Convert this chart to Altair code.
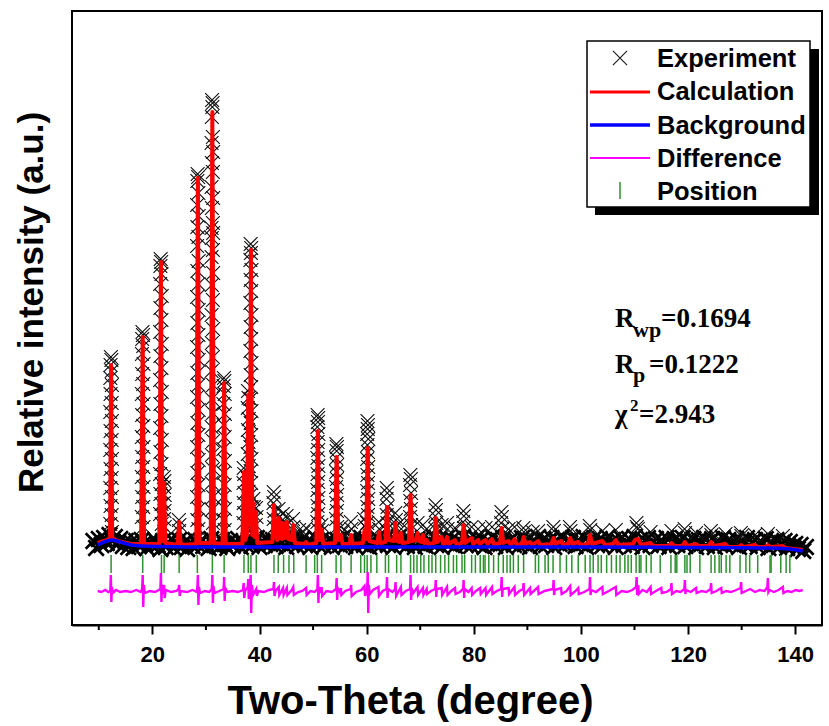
import altair as alt
import pandas as pd

# ---------------- data (2-theta in degrees, intensity in arbitrary units) ----------------

# observed scan: low-intensity band, sampled every 0.5 deg from 9.0 deg
band_start, band_step = 9.0, 0.5
band_int = [
    24, 17, 26, 20, 27, 22, 30, 24, 28, 21, 26, 19, 24, 18, 23, 17, 24, 19, 25, 22,
    17, 23, 19, 25, 20, 16, 24, 18, 22, 26, 17, 21, 25, 18, 23, 16, 22, 19, 25, 20,
    24, 19, 22, 17, 26, 20, 23, 18, 25, 21, 17, 24, 19, 22, 26, 18, 23, 20, 25, 19,
    22, 27, 18, 24, 20, 26, 21, 25, 19, 27, 22, 26, 18, 24, 21, 27, 19, 23, 26, 20,
    24, 18, 22, 27, 20, 25, 19, 23, 26, 18, 22, 25, 20, 27, 19, 24, 21, 26, 18, 23,
    27, 20, 24, 18, 25, 21, 27, 19, 23, 26, 20, 25, 18, 24, 28, 21, 26, 19, 25, 22,
    18, 26, 21, 27, 19, 24, 22, 28, 20, 25, 18, 23, 27, 21, 26, 19, 24, 22, 28, 20,
    25, 19, 23, 27, 20, 26, 18, 24, 22, 28, 19, 25, 21, 27, 18, 23, 26, 20, 24, 19,
    27, 21, 25, 18, 24, 22, 28, 19, 26, 20, 23, 27, 18, 25, 21, 28, 20, 24, 22, 27,
    19, 25, 21, 28, 18, 24, 22, 27, 20, 26, 19, 23, 28, 21, 25, 18, 24, 27, 20, 23,
    26, 19, 28, 22, 25, 18, 24, 27, 20, 23, 26, 19, 25, 21, 27, 18, 23, 26, 20, 24,
    27, 19, 24, 22, 26, 18, 25, 21, 27, 19, 23, 26, 18, 24, 21, 27, 19, 25, 22, 20,
    26, 18, 24, 21, 27, 19, 23, 25, 18, 24, 21, 26, 17, 23, 20, 25, 18, 22, 24, 17,
    23, 19, 21, 16, 20, 14, 18,
]
band_tt = [round(band_start + i * band_step, 2) for i in range(len(band_int))]

# observed points on the reflections (2-theta, intensity)
obs_peaks = [
    # 12.3
    (12.25, 208), (12.35, 205), (12.20, 200), (12.40, 194), (12.15, 187), (12.45, 180),
    (12.20, 171), (12.40, 162), (12.15, 153), (12.45, 144), (12.20, 134), (12.40, 125),
    (12.15, 115), (12.45, 106), (12.20, 96), (12.40, 87), (12.15, 77), (12.45, 68),
    (12.20, 59), (12.40, 50), (12.15, 41), (12.45, 33),
    # 18.2
    (18.15, 233), (18.25, 230), (18.10, 226), (18.30, 219), (18.05, 211), (18.35, 201),
    (18.10, 191), (18.30, 181), (18.05, 171), (18.35, 161), (18.10, 150), (18.30, 139),
    (18.05, 128), (18.35, 118), (18.10, 108), (18.30, 98), (18.05, 88), (18.35, 78),
    (18.10, 68), (18.30, 58), (18.05, 48), (18.35, 38),
    # 21.6 and 22.2
    (21.55, 306), (21.65, 303), (21.50, 299), (21.70, 291), (21.45, 281), (21.75, 269),
    (21.50, 257), (21.70, 245), (21.45, 233), (21.75, 221), (21.50, 209), (21.70, 197),
    (21.45, 185), (21.75, 173), (21.50, 161), (21.70, 149), (21.45, 137), (21.75, 125),
    (21.50, 113), (21.70, 101), (21.45, 91), (21.75, 81), (21.50, 71), (21.70, 61),
    (21.45, 51), (21.75, 41),
    (22.15, 88), (22.25, 84), (22.20, 78), (22.30, 70), (22.15, 62), (22.25, 54),
    (22.20, 46), (22.30, 38),
    # 25.0
    (24.95, 45), (25.05, 40), (25.00, 34),
    # 28.5
    (28.45, 391), (28.55, 388), (28.40, 384), (28.60, 372), (28.35, 360), (28.65, 349),
    (28.40, 338), (28.60, 328), (28.35, 319), (28.65, 304), (28.40, 294), (28.60, 281),
    (28.35, 268), (28.65, 255), (28.40, 242), (28.60, 230), (28.35, 218), (28.65, 205),
    (28.40, 192), (28.60, 180), (28.35, 168), (28.65, 155), (28.40, 142), (28.60, 130),
    (28.35, 118), (28.65, 105), (28.40, 92), (28.60, 80), (28.35, 68), (28.65, 56),
    (28.40, 45), (28.60, 36),
    # 31.2
    (31.15, 465), (31.25, 462), (31.20, 458), (31.10, 448), (31.30, 428), (31.05, 422),
    (31.35, 413), (31.10, 402), (31.30, 393), (31.05, 378), (31.35, 367), (31.10, 357),
    (31.30, 342), (31.05, 337), (31.35, 332), (31.10, 327), (31.30, 315), (31.05, 308),
    (31.35, 292), (31.10, 280), (31.30, 265), (31.05, 250), (31.35, 236), (31.10, 222),
    (31.30, 208), (31.05, 194), (31.35, 180), (31.10, 166), (31.30, 152), (31.05, 138),
    (31.35, 124), (31.10, 110), (31.30, 96), (31.05, 82), (31.35, 68), (31.10, 55),
    (31.30, 42),
    # 33.4
    (33.35, 187), (33.45, 184), (33.30, 179), (33.50, 171), (33.25, 161), (33.55, 151),
    (33.30, 140), (33.50, 128), (33.25, 116), (33.55, 104), (33.30, 92), (33.50, 80),
    (33.25, 68), (33.55, 56), (33.30, 45), (33.50, 35),
    # 37.1, 37.9, 38.4, 39.0-39.5
    (37.05, 97), (37.15, 91), (37.00, 82), (37.20, 72), (37.05, 62), (37.15, 52), (37.00, 42),
    (37.85, 174), (37.95, 167), (37.80, 157), (38.00, 146), (37.85, 135), (37.95, 123),
    (37.80, 111), (38.00, 99), (37.85, 86), (37.95, 73), (37.80, 61), (38.00, 49),
    (38.35, 321), (38.45, 317), (38.40, 312), (38.30, 305), (38.50, 295), (38.35, 285),
    (38.45, 274), (38.30, 262), (38.50, 250), (38.35, 238), (38.45, 226), (38.30, 214),
    (38.50, 202), (38.35, 190), (38.45, 178), (38.30, 166), (38.50, 154), (38.35, 142),
    (38.45, 130), (38.30, 118), (38.50, 106), (38.35, 94), (38.45, 82), (38.30, 70),
    (38.50, 58), (38.35, 46), (38.45, 36),
    (38.85, 66), (38.95, 58), (39.35, 57), (39.45, 48), (39.30, 40),
    # 42.7 - 48.7
    (42.65, 73), (42.75, 68), (42.60, 62), (42.80, 54), (42.65, 46), (42.75, 38),
    (43.55, 56), (43.65, 48), (44.35, 51), (44.45, 43), (45.05, 49), (45.15, 41),
    (46.25, 46), (46.35, 38), (47.4, 35), (48.2, 33), (48.7, 37),
    # 50.9, 51.6
    (50.85, 150), (50.95, 147), (50.90, 143), (50.80, 138), (51.00, 131), (50.85, 123),
    (50.95, 115), (50.80, 107), (51.00, 99), (50.85, 91), (50.95, 83), (50.80, 75),
    (51.00, 67), (50.85, 59), (50.95, 51), (50.80, 43), (51.00, 35),
    (51.55, 40), (51.65, 34),
    # 54.4 - 59.6
    (54.35, 121), (54.45, 118), (54.40, 114), (54.30, 107), (54.50, 100), (54.35, 93),
    (54.45, 86), (54.30, 78), (54.50, 70), (54.35, 62), (54.45, 54), (54.30, 46), (54.50, 38),
    (55.2, 38), (55.5, 33), (57.05, 43), (57.15, 36), (56.5, 32), (59.55, 46), (59.65, 39),
    # 60.2
    (60.15, 144), (60.25, 140), (60.20, 136), (60.10, 131), (60.30, 126), (60.15, 120),
    (60.25, 113), (60.10, 106), (60.30, 98), (60.15, 90), (60.25, 82), (60.10, 74),
    (60.30, 66), (60.15, 58), (60.25, 50), (60.10, 42), (60.30, 35),
    # 62.3 - 76.5
    (62.25, 43), (62.35, 36),
    (63.75, 77), (63.85, 72), (63.70, 66), (63.90, 58), (63.75, 50), (63.85, 42), (63.70, 35),
    (65.35, 52), (65.45, 45), (65.40, 38), (66.35, 43), (66.45, 36),
    (68.15, 90), (68.25, 86), (68.10, 80), (68.30, 72), (68.15, 64), (68.25, 56),
    (68.10, 48), (68.30, 40),
    (69.5, 42), (70.5, 40), (71.2, 36),
    (72.85, 60), (72.95, 55), (72.80, 49), (73.00, 42), (72.85, 36),
    (74.0, 40), (75.0, 42), (75.1, 36), (76.5, 37),
    # 78.1 - 101.7
    (78.05, 54), (78.15, 49), (78.00, 43), (78.20, 37),
    (79.6, 38), (80.8, 36), (82.2, 37), (83.4, 38),
    (85.15, 53), (85.25, 48), (85.10, 42), (85.30, 36),
    (86.5, 36), (87.6, 38), (89.25, 37), (89.35, 33), (91.0, 33), (92.0, 34),
    (94.85, 38), (94.95, 34), (97.95, 38), (98.05, 34), (101.65, 39), (101.75, 35),
    # high angles
    (104.0, 34), (106.5, 35), (110.35, 42), (110.45, 38), (110.6, 36), (113.0, 33),
    (116.9, 34), (119.35, 36), (119.45, 32), (121.5, 32), (124.25, 34), (124.35, 30),
    (127.0, 31), (129.85, 32), (129.95, 29), (132.5, 30), (134.9, 31), (137.7, 29),
]

# calculated profile (2-theta, intensity)
calc_pts = [
    (9.8, 22), (11.6, 25), (12.1, 27), (12.3, 200), (12.5, 27), (13.5, 24), (16.0, 21),
    (17.9, 21), (18.2, 228), (18.45, 21), (21.3, 21), (21.6, 303), (21.85, 24), (22.05, 30),
    (22.2, 82), (22.4, 22), (24.7, 20), (25.0, 43), (25.3, 20), (28.2, 21), (28.5, 387),
    (28.8, 22), (30.9, 22), (31.2, 453), (31.5, 22), (33.1, 21), (33.4, 182), (33.7, 21),
    (36.8, 21), (37.1, 93), (37.35, 25), (37.65, 30), (37.9, 170), (38.1, 40), (38.2, 50),
    (38.4, 315), (38.65, 30), (38.8, 62), (39.05, 28), (39.3, 53), (39.6, 22),
    (42.4, 23), (42.7, 60), (43.0, 28), (43.3, 25), (43.6, 47), (43.85, 27), (44.2, 26),
    (44.4, 42), (44.7, 27), (44.9, 28), (45.1, 43), (45.4, 26), (46.0, 25), (46.3, 40),
    (46.6, 22), (48.4, 21), (48.7, 23), (49.0, 20), (50.6, 22), (50.9, 134), (51.2, 25),
    (51.6, 35), (51.9, 21), (54.1, 22), (54.4, 108), (54.7, 25), (55.2, 30), (55.5, 21),
    (56.8, 21), (57.1, 30), (57.4, 21), (59.3, 22), (59.6, 35), (59.9, 26), (60.2, 117),
    (60.5, 24), (62.0, 22), (62.3, 33), (62.6, 22), (63.5, 23), (63.8, 58), (64.1, 25),
    (65.1, 24), (65.4, 42), (65.7, 24), (66.1, 23), (66.4, 32), (66.7, 22), (67.9, 23),
    (68.2, 70), (68.5, 24), (69.2, 25), (69.5, 32), (69.8, 24), (70.2, 23), (70.5, 30),
    (70.8, 22), (71.2, 25), (71.5, 21), (72.6, 22), (72.9, 47), (73.2, 23), (74.0, 28),
    (74.3, 21), (74.7, 22), (75.0, 28), (75.3, 21), (76.5, 25), (76.8, 20), (77.8, 22),
    (78.1, 40), (78.4, 22), (79.6, 27), (79.9, 21), (80.8, 25), (81.1, 21), (82.2, 25),
    (82.6, 21), (83.4, 26), (83.8, 20), (84.9, 22), (85.2, 37), (85.5, 22), (86.5, 24),
    (86.9, 20), (87.6, 26), (88.0, 20), (89.0, 21), (89.3, 28), (89.7, 21), (90.5, 23),
    (91.0, 20), (92.0, 24), (92.4, 20), (94.5, 21), (94.9, 27), (95.3, 21), (96.3, 24),
    (96.7, 20), (97.6, 21), (98.0, 27), (98.4, 21), (99.5, 23), (99.9, 20), (101.3, 21),
    (101.7, 30), (102.1, 21), (104.0, 24), (104.5, 20), (106.0, 21), (106.5, 25),
    (107.0, 20), (109.7, 21), (110.1, 25), (110.7, 26), (111.2, 20), (113.0, 22),
    (113.5, 19), (116.4, 19), (116.9, 22), (117.4, 19), (118.9, 19), (119.4, 23),
    (119.9, 19), (121.5, 21), (122.0, 19), (123.8, 19), (124.3, 23), (124.8, 19),
    (127.0, 21), (127.5, 18), (129.4, 18), (129.9, 20), (130.4, 18), (132.5, 20),
    (133.0, 18), (134.4, 18), (134.9, 20), (135.4, 18), (137.7, 19), (138.2, 17),
    (141.4, 15),
]

# refined background
bg_pts = [
    (9.8, 20), (11.0, 23), (12.4, 25), (14.0, 23), (16.0, 20), (18.0, 19), (22.0, 18.5),
    (30.0, 18), (60.0, 18), (100.0, 18), (120.0, 17.5), (135.0, 17), (139.0, 16),
    (141.4, 14),
]

# observed - calculated, plotted with an offset below the pattern
diff_pts = [
    (9.8, -26), (10.5, -27), (11.2, -25), (11.8, -27), (12.15, -26), (12.25, -10),
    (12.35, -37), (12.45, -22), (12.6, -28), (13.2, -25), (14.0, -27), (15.0, -26),
    (16.0, -27), (17.0, -25), (17.8, -27), (18.1, -24), (18.2, -10), (18.3, -42),
    (18.4, -20), (18.6, -28), (19.5, -26), (20.5, -27), (21.2, -25), (21.5, -24),
    (21.6, -8), (21.7, -37), (21.8, -20), (22.0, -29), (22.2, -20), (22.3, -33),
    (22.5, -25), (23.5, -27), (24.5, -26), (24.9, -24), (25.0, -20), (25.1, -31),
    (25.3, -26), (26.5, -27), (27.5, -25), (28.3, -27), (28.4, -22), (28.5, -10),
    (28.6, -40), (28.7, -22), (28.9, -28), (29.8, -26), (30.6, -27), (31.1, -24),
    (31.2, -10), (31.3, -38), (31.4, -21), (31.6, -28), (32.5, -26), (33.3, -24),
    (33.4, -12), (33.5, -36), (33.6, -23), (34.0, -27), (35.0, -26), (36.0, -27),
    (36.9, -25), (37.05, -18), (37.15, -33), (37.3, -26), (37.8, -22), (37.9, -14),
    (38.0, -34), (38.2, -25), (38.35, -10), (38.45, -48), (38.6, -20), (38.8, -30),
    (39.4, -24), (39.5, -31), (39.8, -26), (40.8, -27), (41.8, -25), (42.6, -24),
    (42.7, -17), (42.8, -31), (43.0, -26), (43.6, -22), (43.7, -30), (44.4, -23),
    (44.5, -30), (45.1, -23), (45.2, -30), (46.0, -25), (46.3, -22), (46.4, -30),
    (47.2, -27), (48.0, -26), (48.7, -23), (48.8, -30), (49.5, -26), (50.3, -27),
    (50.8, -24), (50.9, -10), (51.0, -38), (51.1, -22), (51.3, -28), (51.6, -22),
    (51.7, -31), (52.5, -26), (53.5, -27), (54.3, -24), (54.4, -13), (54.5, -35),
    (54.6, -23), (55.0, -27), (55.2, -23), (55.3, -30), (56.0, -26), (57.0, -24),
    (57.1, -20), (57.2, -31), (58.0, -27), (59.0, -25), (59.6, -21), (59.7, -31),
    (60.1, -24), (60.2, -7), (60.3, -48), (60.4, -20), (60.6, -29), (61.2, -25),
    (62.2, -22), (62.3, -31), (63.0, -26), (63.7, -24), (63.8, -12), (63.9, -33),
    (64.0, -24), (64.8, -27), (65.3, -24), (65.4, -17), (65.5, -31), (66.0, -26),
    (66.4, -22), (66.5, -30), (67.3, -26), (68.1, -24), (68.2, -10), (68.3, -35),
    (68.4, -23), (68.7, -28), (69.5, -22), (69.6, -30), (70.5, -23), (70.6, -30),
    (71.2, -24), (71.3, -29), (72.0, -26), (72.8, -24), (72.9, -15), (73.0, -32),
    (73.1, -24), (74.0, -23), (74.1, -30), (75.0, -22), (75.1, -30), (75.8, -26),
    (76.5, -23), (76.6, -29), (77.4, -27), (78.0, -24), (78.1, -15), (78.2, -33),
    (78.3, -24), (79.0, -27), (79.6, -23), (79.7, -30), (80.4, -26), (81.2, -23),
    (81.3, -29), (82.2, -23), (82.3, -30), (83.4, -22), (83.5, -29), (84.3, -26),
    (85.1, -24), (85.2, -12), (85.3, -32), (85.4, -24), (86.5, -23), (86.6, -29),
    (87.6, -22), (87.7, -30), (88.5, -26), (89.2, -24), (89.3, -18), (89.4, -30),
    (90.5, -23), (90.6, -29), (92.0, -22), (92.1, -29), (93.2, -26), (94.8, -24),
    (94.9, -15), (95.0, -30), (95.1, -25), (96.3, -23), (96.4, -29), (97.3, -26),
    (98.0, -21), (98.1, -30), (99.0, -26), (99.5, -23), (99.6, -29), (100.6, -27),
    (101.6, -24), (101.7, -12), (101.8, -30), (101.9, -25), (102.8, -27), (104.0, -22),
    (104.1, -29), (105.2, -26), (106.5, -22), (106.6, -30), (107.6, -26), (108.6, -27),
    (109.6, -25), (110.3, -22), (110.4, -12), (110.5, -30), (110.7, -20), (110.8, -29),
    (111.5, -25), (112.3, -27), (113.0, -22), (113.1, -29), (114.0, -26), (115.0, -23),
    (115.1, -28), (116.0, -27), (116.8, -24), (116.9, -18), (117.0, -29), (117.8, -26),
    (118.6, -27), (119.3, -24), (119.4, -15), (119.5, -29), (119.6, -25), (120.5, -27),
    (121.5, -23), (121.6, -28), (122.5, -26), (123.4, -27), (124.2, -24), (124.3, -18),
    (124.4, -28), (125.3, -26), (126.2, -23), (126.3, -28), (127.1, -26), (128.0, -27),
    (129.0, -25), (129.8, -23), (129.9, -17), (130.0, -28), (130.8, -26), (131.6, -24),
    (132.5, -27), (133.4, -25), (134.3, -26), (134.8, -22), (134.9, -13), (135.0, -27),
    (135.2, -25), (136.0, -27), (136.9, -25), (137.7, -22), (137.8, -28), (138.5, -26),
    (139.3, -27), (140.1, -25), (140.8, -26), (141.4, -25),
]

# Bragg reflection positions (deg)
positions = [
    12.3, 18.2, 21.7, 22.2, 25.0, 28.4, 31.2, 33.4, 37.1, 37.9, 38.4, 39.4, 42.7, 43.5,
    44.5, 45.5, 46.4, 48.7, 50.3, 50.8, 51.6, 54.3, 55.2, 57.1, 58.9, 59.6, 60.1, 60.8,
    61.9, 63.5, 64.1, 65.6, 66.4, 68.2, 68.8, 69.4, 70.1, 70.7, 71.6, 72.2, 72.9, 73.8,
    74.6, 75.3, 76.2, 76.8, 77.8, 78.3, 79.6, 80.3, 81.2, 81.8, 82.1, 82.8, 83.7, 84.6,
    85.5, 86.2, 86.8, 87.4, 88.3, 89.3, 91.5, 92.1, 93.3, 93.9, 94.8, 96.1, 97.3, 98.3,
    99.5, 100.8, 101.7, 102.3, 103.2, 103.8, 104.8, 105.7, 106.6, 107.3, 108.2, 108.8,
    109.4, 110.3, 110.9, 111.2, 112.2, 113.1, 114.8, 116.8, 117.6, 117.9, 119.4, 119.8,
    120.4, 122.2, 124.3, 125.0, 125.8, 126.2, 127.1, 127.8, 129.7, 130.8, 131.5, 133.0,
    135.3, 135.5, 137.3, 138.3, 139.0,
]

x_major = [20, 40, 60, 80, 100, 120, 140]
x_minor = [10, 30, 50, 70, 90, 110, 130]

legend_labels = ["Experiment", "Calculation", "Background", "Difference", "Position"]

# ---------------- frames ----------------
band_df = pd.DataFrame({"tt": band_tt, "I": band_int})
peak_df = pd.DataFrame(obs_peaks, columns=["tt", "I"])
calc_df = pd.DataFrame(calc_pts, columns=["tt", "I"])
bg_df = pd.DataFrame(bg_pts, columns=["tt", "I"])
diff_df = pd.DataFrame(diff_pts, columns=["tt", "I"])
pos_df = pd.DataFrame({"tt": positions})
minor_df = pd.DataFrame({"tt": x_minor})

SANS = "Liberation Sans, Arial, Helvetica, sans-serif"
SERIF = "Liberation Serif, Times New Roman, serif"
X_SHAPE = "M-1,-1L1,1M-1,1L1,-1"

x_scale = alt.Scale(domain=[5, 145], nice=False, zero=False)
y_scale = alt.Scale(domain=[-60, 554], nice=False, zero=False)

x_axis = alt.Axis(
    values=x_major, format="d", grid=False,
    domainColor="black", domainWidth=2,
    tickColor="black", tickWidth=2, tickSize=9,
    labelFont=SANS, labelFontWeight="bold", labelFontSize=22, labelColor="black",
    labelPadding=10, labelFlush=False,
    title="Two-Theta (degree)", titleFont=SANS, titleFontWeight="bold",
    titleFontSize=40, titleColor="black", titlePadding=16,
    titleX=338, titleAnchor="middle", titleAlign="center",
)
y_axis = alt.Axis(
    labels=False, ticks=False, domain=False, grid=False,
    title="Relative intensity (a.u.)", titleFont=SANS, titleFontWeight="bold",
    titleFontSize=35, titleColor="black", titlePadding=23,
    titleY=291, titleAnchor="middle", titleAlign="center",
)

X = alt.X("tt:Q", scale=x_scale, axis=x_axis)
Y = alt.Y("I:Q", scale=y_scale, axis=y_axis)

one = alt.Data(values=[{"k": 0}])

# ---------------- data layers ----------------
band_layer = alt.Chart(band_df).mark_point(
    shape=X_SHAPE, filled=False, stroke="#000000", strokeWidth=2.6, size=240, opacity=1
).encode(x=X, y=Y)

peak_layer = alt.Chart(peak_df).mark_point(
    shape=X_SHAPE, filled=False, stroke="#111111", strokeWidth=1.15, size=190, opacity=1
).encode(x=X, y=Y)

calc_layer = alt.Chart(calc_df).mark_line(
    color="#ff0000", strokeWidth=4, strokeJoin="round"
).encode(x=X, y=Y, order="tt:Q")

bg_layer = alt.Chart(bg_df).mark_line(
    color="#0000ff", strokeWidth=3.5, interpolate="monotone"
).encode(x=X, y=Y)

pos_layer = alt.Chart(pos_df).mark_rule(color="#2e922e", strokeWidth=1.5).encode(
    x=X,
    y=alt.YDatum(10, scale=y_scale, axis=y_axis),
    y2=alt.Y2Datum(-8),
)

diff_layer = alt.Chart(diff_df).mark_line(
    color="#ff00ff", strokeWidth=2.4
).encode(x=X, y=Y, order="tt:Q")

minor_layer = alt.Chart(minor_df).mark_rule(color="black", strokeWidth=2).encode(
    x=X, y=alt.value(614), y2=alt.value(619)
)

# ---------------- legend box ----------------
def rect(x, x2, y, y2, **kw):
    return alt.Chart(one).mark_rect(**kw).encode(
        x=alt.value(x), x2=alt.value(x2), y=alt.value(y), y2=alt.value(y2)
    )

def hline(x, x2, y, color, width):
    return alt.Chart(one).mark_rule(color=color, strokeWidth=width).encode(
        x=alt.value(x), x2=alt.value(x2), y=alt.value(y)
    )

def label(txt, x, y, size, font=SANS, weight="bold"):
    return alt.Chart(one).mark_text(
        text=txt, font=font, fontSize=size, fontWeight=weight, color="black",
        align="left", baseline="alphabetic",
    ).encode(x=alt.value(x), y=alt.value(y))

legend_parts = [
    rect(523, 747, 38, 204, color="black"),
    rect(515, 738, 30, 196, fill="white", stroke="black", strokeWidth=1.5),
    alt.Chart(one).mark_point(
        shape=X_SHAPE, filled=False, stroke="#222222", strokeWidth=1.2, size=200, opacity=1
    ).encode(x=alt.value(548), y=alt.value(47)),
    hline(518, 578, 81, "#ff0000", 3),
    hline(518, 578, 114, "#0000ff", 3.5),
    hline(518, 578, 147, "#ff00ff", 2),
    alt.Chart(one).mark_rule(color="#2e922e", strokeWidth=1.5).encode(
        x=alt.value(548), y=alt.value(171), y2=alt.value(188)
    ),
]
for i, name in enumerate(legend_labels):
    legend_parts.append(label(name, 585, 56 + i * 33.3, 25.5))

# ---------------- refinement statistics ----------------
stats = [
    label("R", 543, 316, 27, SERIF), label("wp", 561, 326, 22, SERIF),
    label("=0.1694", 589, 316, 27, SERIF),
    label("R", 543, 362, 27, SERIF), label("p", 561, 371, 22, SERIF),
    label("=0.1222", 577, 362, 27, SERIF),
    label("\u03c7", 543, 412, 27, SERIF), label("2", 558, 400, 17, SERIF),
    label("=2.943", 567, 412, 27, SERIF),
]

chart = alt.layer(
    band_layer, peak_layer, calc_layer, bg_layer, pos_layer, diff_layer, minor_layer,
    *legend_parts, *stats,
).properties(
    width=750, height=614,
    padding={"left": 72, "top": 11, "right": 7, "bottom": 101},
    autosize=alt.AutoSizeParams(type="none"),
    background="white",
).configure_view(
    stroke="black", strokeWidth=2
)

chart.save("out.html", embed_options={"renderer": "svg", "actions": False})
